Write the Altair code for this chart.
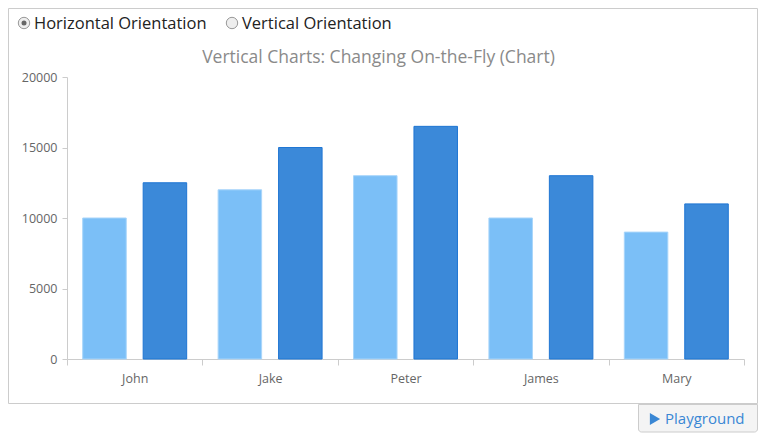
import altair as alt
import pandas as pd

names = ["John", "Jake", "Peter", "James", "Mary"]
series_a = [10000, 12000, 13000, 10000, 9000]
series_b = [12500, 15000, 16500, 13000, 11000]
series_names = ["Series A", "Series B"]
colors = ["#7bbff7", "#3b89d9"]
strokes = ["#a8d5fa", "#1f76d3"]
y_ticks = [0, 5000, 10000, 15000, 20000]

rows = []
for n, a, b in zip(names, series_a, series_b):
    rows.append({"name": n, "series": series_names[0], "value": a})
    rows.append({"name": n, "series": series_names[1], "value": b})
df = pd.DataFrame(rows)

FONT = "Open Sans"

bars = alt.Chart(df).mark_bar(strokeWidth=1).encode(
    x=alt.X("name:N", sort=names, title=None,
            scale=alt.Scale(paddingInner=0, paddingOuter=0),
            axis=alt.Axis(labelAngle=0, tickBand="extent", domainColor="#cccccc",
                          tickColor="#cccccc", tickSize=6, labelPadding=7,
                          labelColor="#666666", labelFontSize=12.5, labelFont=FONT)),
    xOffset=alt.XOffset("series:N", scale=alt.Scale(paddingInner=0.28, paddingOuter=0.26)),
    y=alt.Y("value:Q", title=None,
            scale=alt.Scale(domain=[0, 20000], nice=False),
            axis=alt.Axis(values=y_ticks, format="d", grid=False, domainColor="#cccccc",
                          tickColor="#cccccc", tickSize=5, labelPadding=5,
                          labelColor="#666666", labelFontSize=12.5, labelFont=FONT)),
    color=alt.Color("series:N", scale=alt.Scale(domain=series_names, range=colors), legend=None),
    stroke=alt.Stroke("series:N", scale=alt.Scale(domain=series_names, range=strokes), legend=None),
)

one = pd.DataFrame({"k": [0]})

border = alt.Chart(one).mark_rect(fillOpacity=0, stroke="#cccccc", strokeWidth=1).encode(
    x=alt.value(-58.5), x2=alt.value(690.5), y=alt.value(-68.5), y2=alt.value(326.5))

title = alt.Chart(one).mark_text(text="Vertical Charts: Changing On-the-Fly (Chart)",
                                 font=FONT, fontSize=17.5, color="#8a8a8a",
                                 align="center", baseline="middle").encode(
    x=alt.value(311.5), y=alt.value(-19))

radio_outer = alt.Chart(pd.DataFrame({"k": [0, 1]})).mark_point(
    shape="circle", filled=True, size=130, fill="#eeeeee", stroke="#999999",
    strokeWidth=1, opacity=1).encode(
    x=alt.X("k:Q", scale=alt.Scale(domain=[0, 1], range=[-43, 165]), axis=None),
    y=alt.value(-54))

radio_inner = alt.Chart(one).mark_point(shape="circle", filled=True, size=25,
                                        fill="#666666", opacity=1).encode(
    x=alt.value(-43), y=alt.value(-54))

label_h = alt.Chart(one).mark_text(text="Horizontal Orientation", font=FONT, fontSize=16.5,
                                   color="#222222", align="left", baseline="middle").encode(
    x=alt.value(-33), y=alt.value(-53))
label_v = alt.Chart(one).mark_text(text="Vertical Orientation", font=FONT, fontSize=16.5,
                                   color="#222222", align="left", baseline="middle").encode(
    x=alt.value(175), y=alt.value(-53))

btn = alt.Chart(one).mark_rect(fill="#f4f4f4", stroke="#cccccc", strokeWidth=1,
                               cornerRadiusBottomLeft=3, cornerRadiusBottomRight=3).encode(
    x=alt.value(571.5), x2=alt.value(690.5), y=alt.value(327.5), y2=alt.value(355))
btn_tri = alt.Chart(one).mark_point(shape="triangle-right", filled=True, size=140,
                                    fill="#3a87d4", opacity=1).encode(
    x=alt.value(588), y=alt.value(342))
btn_text = alt.Chart(one).mark_text(text="Playground", font=FONT, fontSize=15,
                                    color="#3a87d4", align="left", baseline="middle").encode(
    x=alt.value(598), y=alt.value(342))

chart = alt.layer(border, bars, title, radio_outer, radio_inner, label_h, label_v,
                  btn, btn_tri, btn_text).resolve_scale(x="independent").properties(
    width=677, height=282,
    autosize=alt.AutoSizeParams(type="none"),
    padding={"left": 59, "top": 69, "right": 15, "bottom": 74},
).configure_view(stroke=None)

chart.save("out.html", embed_options={"renderer": "svg", "actions": False})
